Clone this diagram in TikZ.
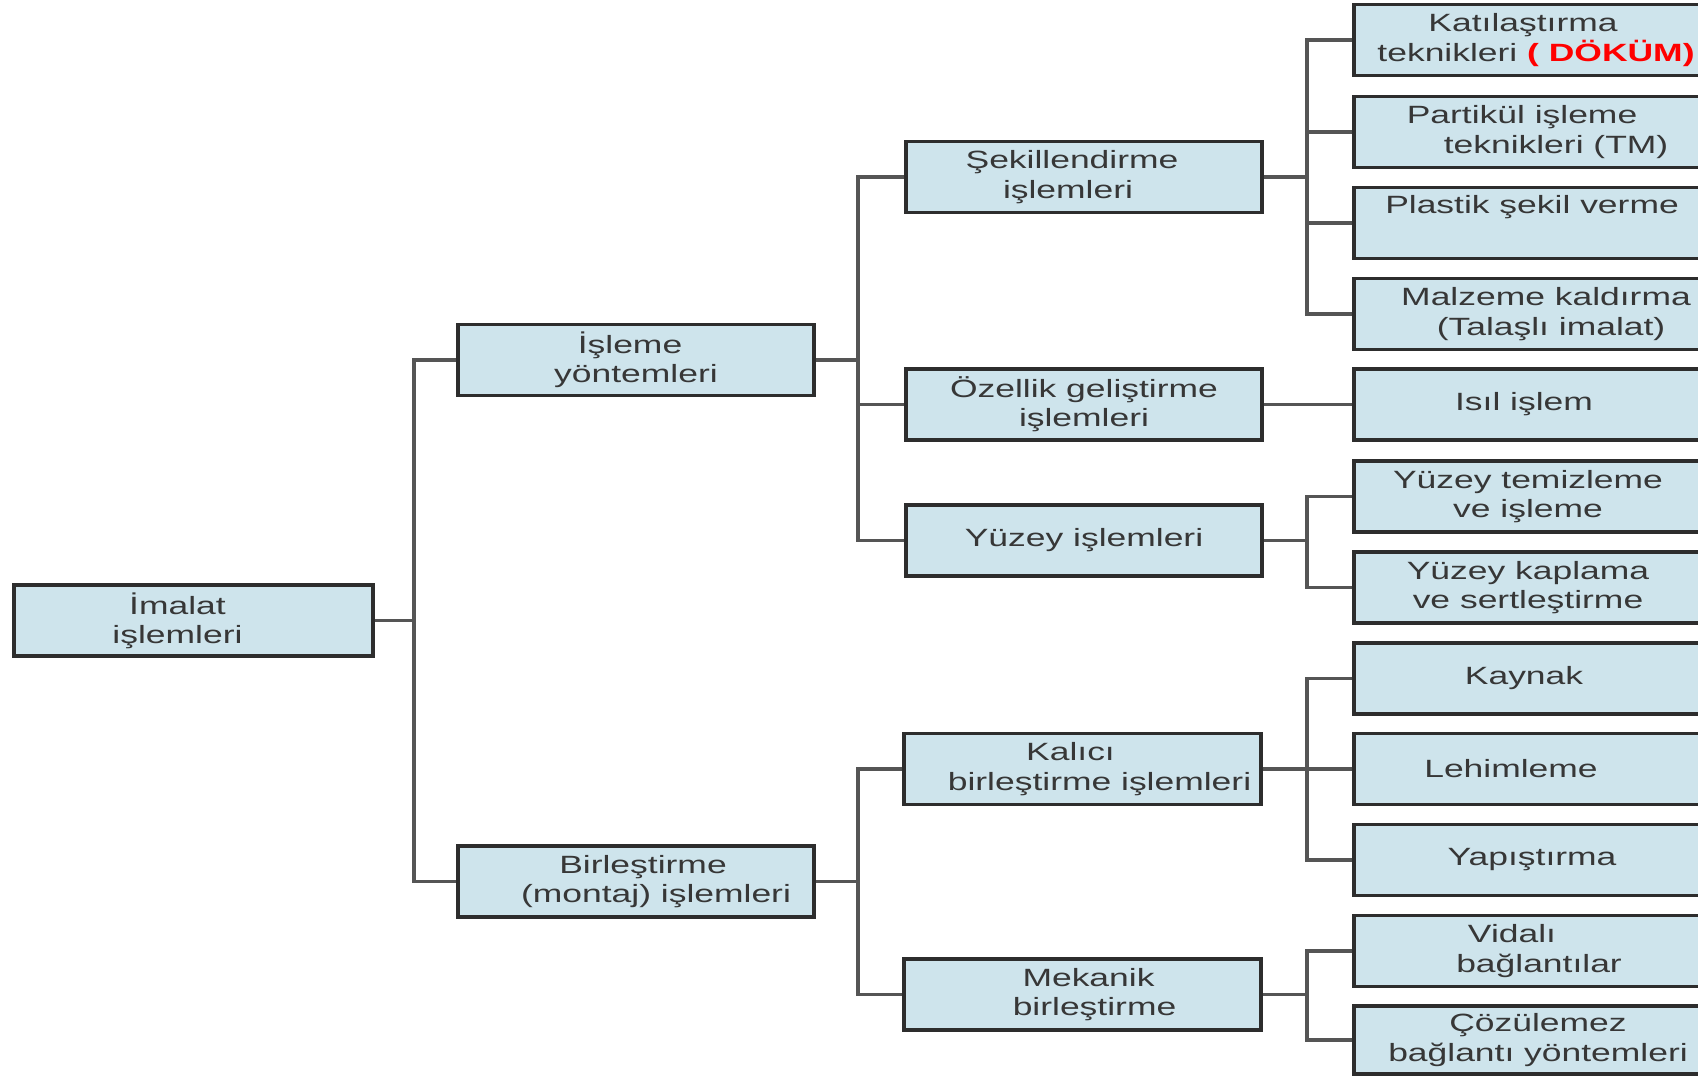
\documentclass[tikz,border=0pt]{standalone}
\usepackage{fontspec}
\setmainfont{Liberation Sans}[FakeStretch=1.42]
\definecolor{boxfill}{RGB}{206,228,236}
\definecolor{boxline}{RGB}{45,45,45}
\definecolor{connline}{RGB}{85,85,85}
\definecolor{txt}{RGB}{55,55,55}
\definecolor{dokum}{RGB}{255,0,0}
\newcommand\sh[2]{\mbox{\kern#1\relax#2\kern-#1\relax}}
\begin{document}
\begin{tikzpicture}[x=0.01cm,y=-0.01cm,
  box/.style={draw=boxline, line width=1pt, fill=boxfill, minimum width=3.56cm,
    minimum height=0.71cm, inner sep=0pt, align=center, text=txt,
    font=\fontsize{7.1}{8.3}\selectfont},
  conn/.style={draw=connline, line width=0.9pt}]
\clip (0,0) rectangle (1698,1075);
\fill[white] (0,0) rectangle (1698,1075);

\coordinate (bus1) at (414,0);
\coordinate (bus2) at (858,0);
\coordinate (bus3) at (1307,0);

\node[box, minimum width=3.59cm] (imalat) at (193.5,620.5) {\sh{-1.6mm}{İmalat}\\\sh{-1.6mm}{işlemleri}};
\node[box] (isleme) at (636,360) {\sh{-0.6mm}{İşleme}\\yöntemleri};
\node[box] (birles) at (636,881.5) {\sh{0.7mm}{Birleştirme}\\\sh{2mm}{(montaj) işlemleri}};

\node[box] (sekil) at (1084,177) {\sh{-1.2mm}{Şekillendirme}\\\sh{-1.6mm}{işlemleri}};
\node[box] (ozellik) at (1084,404.5) {Özellik geliştirme\\işlemleri};
\node[box] (yuzey) at (1084,540.5) {Yüzey işlemleri};
\node[box, minimum width=3.57cm] (kalici) at (1082.5,769) {\sh{-1.2mm}{Kalıcı}\\\sh{1.7mm}{birleştirme işlemleri}};
\node[box, minimum width=3.57cm] (mekanik) at (1082.5,994.5) {\sh{0.6mm}{Mekanik}\\\sh{1.2mm}{birleştirme}};

\node[box] (kati) at (1532,40) {\sh{-0.9mm}{Katılaştırma}\\\sh{0.4mm}{teknikleri \textcolor{dokum}{\bfseries ( DÖKÜM)}}};
\node[box] (partikul) at (1532,132) {\sh{-1mm}{Partikül işleme}\\\sh{2.4mm}{teknikleri (TM)}};
\node[box] (plastik) at (1532,223) {Plastik şekil verme\\\strut};
\node[box] (malzeme) at (1532,314) {\sh{1.4mm}{Malzeme kaldırma}\\\sh{1.9mm}{(Talaşlı imalat)}};
\node[box] (isil) at (1532,404.5) {\sh{-0.8mm}{Isıl işlem}};
\node[box] (temiz) at (1532,496.5) {\sh{-0.4mm}{Yüzey temizleme}\\\sh{-0.4mm}{ve işleme}};
\node[box] (kaplama) at (1532,587.5) {\sh{-0.4mm}{Yüzey kaplama}\\\sh{-0.4mm}{ve sertleştirme}};
\node[box] (kaynak) at (1532,678.5) {\sh{-0.8mm}{Kaynak}};
\node[box] (lehim) at (1532,769) {\sh{-2.1mm}{Lehimleme}};
\node[box] (yapis) at (1532,860) {Yapıştırma};
\node[box] (vidali) at (1532,951) {\sh{-2mm}{Vidalı}\\\sh{0.7mm}{bağlantılar}};
\node[box, minimum height=0.68cm] (cozul) at (1532,1040) {\sh{0.6mm}{Çözülemez}\\\sh{0.6mm}{bağlantı yöntemleri}};

\draw[conn] (imalat.east) -- (imalat.east -| bus1);
\draw[conn] (isleme.west) -| (bus1 |- birles.west) -- (birles.west);
\draw[conn] (isleme.east) -- (isleme.east -| bus2);
\draw[conn] (sekil.west) -| (bus2 |- yuzey.west) -- (yuzey.west);
\draw[conn] (ozellik.west) -- (ozellik.west -| bus2);
\draw[conn] (birles.east) -- (birles.east -| bus2);
\draw[conn] (kalici.west) -| (bus2 |- mekanik.west) -- (mekanik.west);
\draw[conn] (sekil.east) -- (sekil.east -| bus3);
\draw[conn] (kati.west) -| (bus3 |- malzeme.west) -- (malzeme.west);
\draw[conn] (partikul.west) -- (partikul.west -| bus3);
\draw[conn] (plastik.west) -- (plastik.west -| bus3);
\draw[conn] (ozellik.east) -- (isil.west);
\draw[conn] (yuzey.east) -- (yuzey.east -| bus3);
\draw[conn] (temiz.west) -| (bus3 |- kaplama.west) -- (kaplama.west);
\draw[conn] (kalici.east) -- (lehim.west);
\draw[conn] (kaynak.west) -| (bus3 |- yapis.west) -- (yapis.west);
\draw[conn] (mekanik.east) -- (mekanik.east -| bus3);
\draw[conn] (vidali.west) -| (bus3 |- cozul.west) -- (cozul.west);
\end{tikzpicture}
\end{document}
